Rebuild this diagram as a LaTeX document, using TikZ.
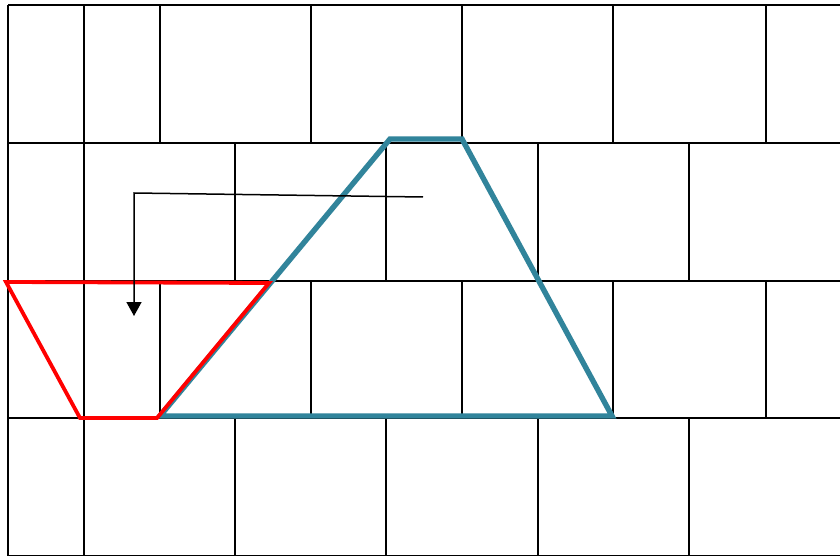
\documentclass[tikz,border=0pt]{standalone}
\usepackage{xcolor}
\usepackage{tikz}
\usetikzlibrary{arrows.meta}
\definecolor{brickteal}{HTML}{31849B}
\definecolor{brickred}{HTML}{FF0000}

\begin{document}
\begin{tikzpicture}[x=1pt,y=-1pt,
  brickline/.style={line width=2.8pt,black},
  trapline/.style={line width=5.4pt,brickteal,line join=miter},
  redline/.style={line width=3.8pt,brickred,line join=miter},
  moveline/.style={line width=1.5pt,black,-{Triangle[width=15pt,length=14pt]}}]
  \useasboundingbox[fill=white] (0,0) rectangle (840,556);
  \draw[brickline] (8,5)--(840,5) (8,143)--(840,143) (8,281)--(840,281)
    (8,418)--(840,418) (8,556)--(840,556) (8,5)--(8,556);
  \draw[brickline] (84,5)--(84,143) (160,5)--(160,143) (311,5)--(311,143)
    (462,5)--(462,143) (613,5)--(613,143) (766,5)--(766,143);
  \draw[brickline] (84,143)--(84,281) (235,143)--(235,281) (386,143)--(386,281)
    (538,143)--(538,281) (689,143)--(689,281);
  \draw[brickline] (84,281)--(84,418) (160,281)--(160,418) (311,281)--(311,418)
    (462,281)--(462,418) (613,281)--(613,418) (766,281)--(766,418);
  \draw[brickline] (84,418)--(84,556) (235,418)--(235,556) (386,418)--(386,556)
    (538,418)--(538,556) (689,418)--(689,556);
  \draw[trapline] (160,416)--(390,139)--(462,139)--(612,416)--cycle;
  \draw[redline] (6,282)--(269,283)--(157,418)--(80,418)--cycle;
  \coordinate (start) at (423,197);
  \coordinate (turn) at (134,193);
  \coordinate (stop) at (134,316);
  \draw[moveline] (start)--(turn)--(stop);
\end{tikzpicture}
\end{document}
